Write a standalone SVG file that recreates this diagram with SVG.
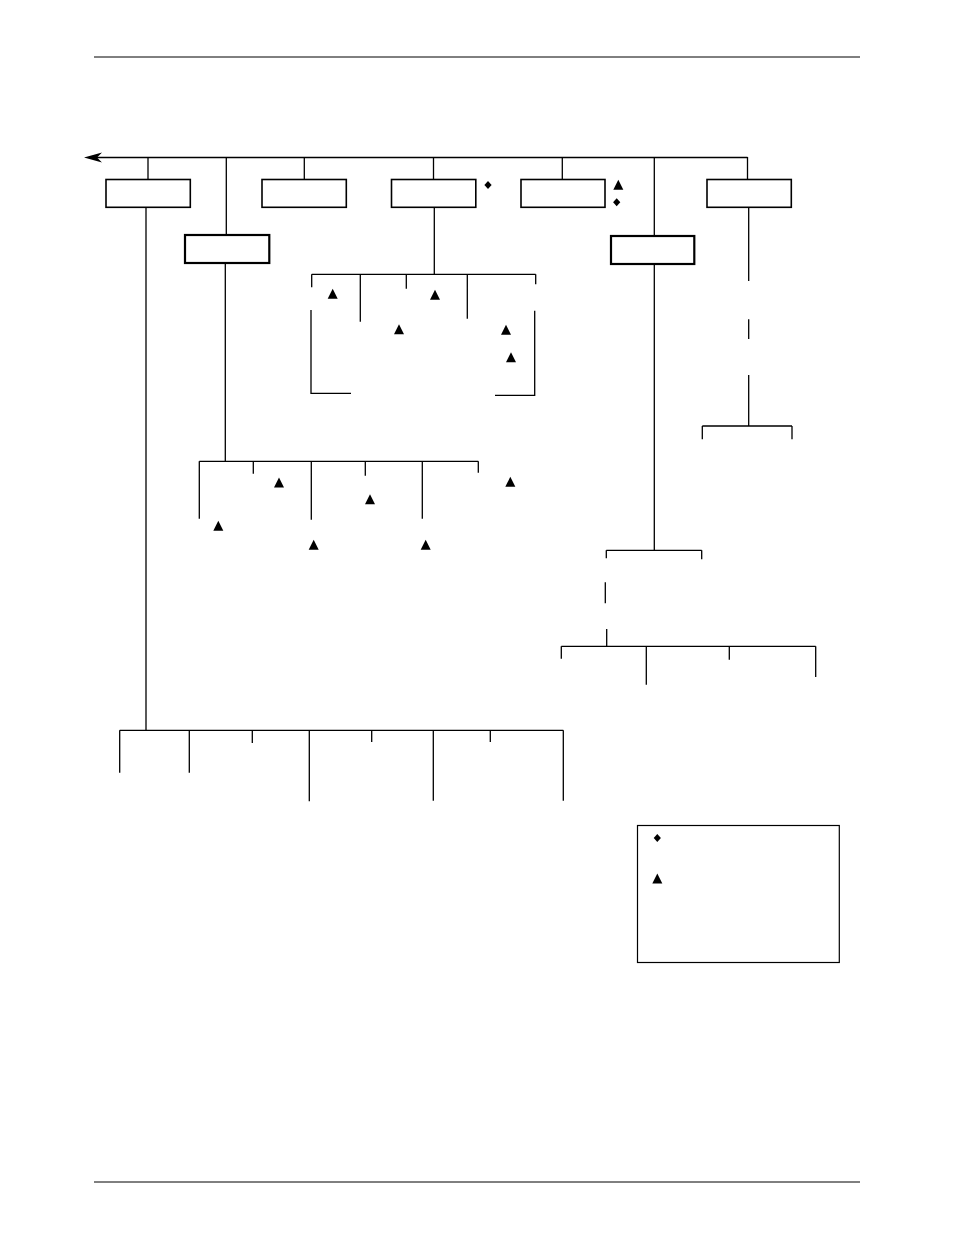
<svg xmlns="http://www.w3.org/2000/svg" xmlns:xlink="http://www.w3.org/1999/xlink" width="954" height="1235" viewBox="0 0 954 1235">
<style>
.ln{stroke:#000;stroke-width:1.3;fill:none}
.bx{stroke:#000;stroke-width:1.6;fill:#fff}
.bx2{stroke:#000;stroke-width:2.2;fill:#fff}
.rule{stroke:#000;stroke-width:1}
</style>
<defs>
<path id="tri" d="M0,-5.5 L5,4.5 L-5,4.5 Z" fill="#000"/>
<path id="dia" d="M0,-4 L3.6,0 L0,4 L-3.6,0 Z" fill="#000"/>
</defs>
<rect width="954" height="1235" fill="#fff"/>
<line class="rule" x1="94" y1="57" x2="860" y2="57"/>
<line class="rule" x1="94" y1="1182" x2="860" y2="1182"/>
<g id="connectors">
<path class="ln" d="M747.5,157.5 H96"/>
<path d="M84,157.5 L102,152.5 L97,157.5 L102,162.5 Z" fill="#000"/>
<path class="ln" d="M148,157 V179 M146,207 V730.5"/>
<path class="ln" d="M226.3,157 V235 M225.3,263 V461.3"/>
<path class="ln" d="M304.3,157 V179"/>
<path class="ln" d="M433.5,157 V179 M434.3,207 V274.3"/>
<path class="ln" d="M562.3,157 V179"/>
<path class="ln" d="M654.3,157 V236 M654.3,264 V550.3"/>
<path class="ln" d="M747.5,157 V179 M748.7,207 V281 M748.7,319.3 V339 M748.7,375 V426"/>
<path class="ln" d="M311.7,274.3 H535.7 M311.7,274.3 V287.3 M360.3,274.3 V321.7 M406.3,274.3 V288.7 M467.3,274.3 V318.7 M535.7,274.3 V284.3"/>
<path class="ln" d="M311,310 V393.3 H351 M534.7,310.7 V395.3 H495"/>
<path class="ln" d="M199.3,461.3 H478.3 M199.3,461.3 V518.7 M253.3,461.3 V473.7 M311.3,461.3 V519.7 M365.3,461.3 V475.7 M422.3,461.3 V518.7 M478.3,461.3 V472.7"/>
<path class="ln" d="M702.3,426 H792 M702.3,426 V439.3 M792,426 V439.3"/>
<path class="ln" d="M606.3,550.3 H701.7 M606.3,550.3 V558.3 M701.7,550.3 V559.3 M605.3,582.3 V603.3 M606.7,629 V646.3"/>
<path class="ln" d="M561.3,646.3 H815.7 M561.3,646.3 V658.7 M646.3,646.3 V684.7 M729.3,646.3 V659.7 M815.7,646.3 V677"/>
<path class="ln" d="M119.7,730.3 H563.3 M119.7,730.3 V772.7 M189.3,730.3 V772.7 M252.3,730.3 V743 M309.3,730.3 V801.3 M371.7,730.3 V742 M433.3,730.3 V800.7 M490.3,730.3 V742 M563.3,730.3 V800.7"/>
</g>
<g id="node1"><rect class="bx" x="106" y="179.5" width="84.3" height="27.8"/></g>
<g id="node2"><rect class="bx2" x="185" y="235" width="84.3" height="28"/></g>
<g id="node3"><rect class="bx" x="262" y="179.5" width="84.3" height="27.8"/></g>
<g id="node4"><rect class="bx" x="391.5" y="179.5" width="84.3" height="27.8"/></g>
<g id="node5"><rect class="bx" x="521" y="179.5" width="84" height="27.8"/></g>
<g id="node6"><rect class="bx2" x="611" y="236" width="83.3" height="28"/></g>
<g id="node7"><rect class="bx" x="707" y="179.5" width="84.3" height="27.8"/></g>
<g id="marks">
<use xlink:href="#dia" x="488" y="185"/>
<use xlink:href="#tri" x="618.3" y="185.3"/>
<use xlink:href="#dia" x="616.7" y="202.3"/>
<use xlink:href="#tri" x="332.7" y="294.3"/>
<use xlink:href="#tri" x="399" y="329.7"/>
<use xlink:href="#tri" x="435" y="295.3"/>
<use xlink:href="#tri" x="506" y="330.3"/>
<use xlink:href="#tri" x="511" y="357.7"/>
<use xlink:href="#tri" x="279" y="483"/>
<use xlink:href="#tri" x="218.3" y="526.3"/>
<use xlink:href="#tri" x="370" y="499.7"/>
<use xlink:href="#tri" x="313.7" y="545.3"/>
<use xlink:href="#tri" x="425.7" y="545.3"/>
<use xlink:href="#tri" x="510.3" y="482.3"/>
</g>
<g id="legend">
<rect x="637.5" y="825.5" width="201.8" height="137" fill="#fff" stroke="#000" stroke-width="1.2"/>
<use xlink:href="#dia" x="657.3" y="838"/>
<use xlink:href="#tri" x="657.3" y="879"/>
</g>
</svg>
